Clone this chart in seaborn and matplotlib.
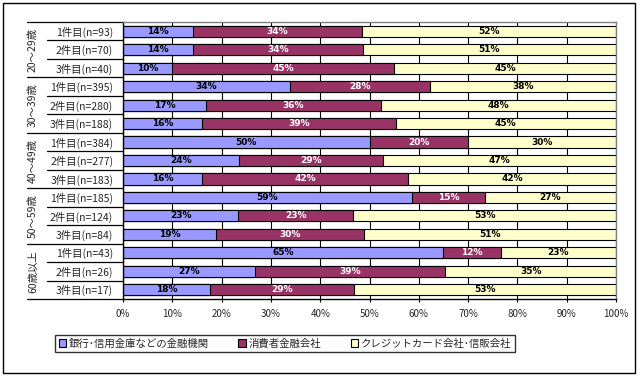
import pandas as pd
import matplotlib.pyplot as plt
import matplotlib.transforms as mtransforms
from matplotlib.patches import Patch, Rectangle
import seaborn as sns

# ==========================================
# DATA
# ==========================================
groups = ["20～29歳", "30～39歳", "40～49歳", "50～59歳", "60歳以上"]
rows = [
    "1件目(n=93)", "2件目(n=70)", "3件目(n=40)",
    "1件目(n=395)", "2件目(n=280)", "3件目(n=188)",
    "1件目(n=384)", "2件目(n=277)", "3件目(n=183)",
    "1件目(n=185)", "2件目(n=124)", "3件目(n=84)",
    "1件目(n=43)", "2件目(n=26)", "3件目(n=17)",
]
bank = [14.1, 14.3, 10.0, 33.9, 16.8, 16.1, 50.0, 23.6, 16.0, 58.6, 23.4, 18.9, 65.0, 26.8, 17.7]
consumer = [34.3, 34.3, 45.0, 28.4, 35.6, 39.2, 20.0, 29.1, 41.9, 14.8, 23.3, 29.9, 11.6, 38.6, 29.2]
credit = [51.6, 51.4, 45.0, 37.7, 47.6, 44.7, 30.0, 47.3, 42.1, 26.6, 53.3, 51.2, 23.4, 34.6, 53.1]
series = ["銀行･信用金庫などの金融機関", "消費者金融会社", "クレジットカード会社･信販会社"]
colors = ["#9999FF", "#993366", "#FFFFCC"]
label_colors = ["black", "white", "black"]

df = pd.DataFrame({"row": rows, "bank": bank, "consumer": consumer, "credit": credit})
df["c1"] = df["bank"]
df["c2"] = df["bank"] + df["consumer"]
df["c3"] = df["c2"] + df["credit"]

# ==========================================
# STYLE
# ==========================================
sns.set_style("white")
plt.rcParams["font.family"] = ["Noto Sans CJK JP", "DejaVu Sans"]

fig = plt.figure(figsize=(6.4, 3.8), dpi=100)
ax = fig.add_axes([123 / 640, 1 - 299 / 380, 493 / 640, 277 / 380])

# stacked bars: draw cumulative totals back to front
for col, c in zip(["c3", "c2", "c1"], colors[::-1]):
    sns.barplot(data=df, x=col, y="row", orient="h", color=c, saturation=1,
                edgecolor="black", linewidth=0.8, width=0.6, ax=ax)

# segment labels
for i in range(len(rows)):
    left = 0
    for val, tc in zip([bank[i], consumer[i], credit[i]], label_colors):
        ax.text(left + val / 2, i, f"{val:.0f}%", ha="center", va="center",
                color=tc, fontsize=6.5, fontweight="bold", family="DejaVu Sans")
        left += val

ax.set_xlim(0, 100)
ax.set_ylim(len(rows) - 0.5, -0.5)
ax.set_xticks(range(0, 101, 10))
ax.set_xticklabels([f"{v}%" for v in range(0, 101, 10)])
ax.xaxis.grid(True, color="black", lw=0.8)
ax.yaxis.grid(False)
ax.set_axisbelow(True)
ax.set_xlabel("")
ax.set_ylabel("")
ax.tick_params(axis="x", bottom=True, length=2, width=0.8, color="black", pad=5, labelsize=7)
ax.tick_params(axis="y", left=False, length=0, pad=7, labelsize=7.5)

for s in ["left", "bottom"]:
    ax.spines[s].set_color("black")
    ax.spines[s].set_linewidth(1)
for s in ["top", "right"]:
    ax.spines[s].set_color("#808080")
    ax.spines[s].set_linewidth(1)

# category separators and group labels
trans = mtransforms.blended_transform_factory(ax.transAxes, ax.transData)
for i in range(len(rows) + 1):
    x0 = -0.195 if i % 3 == 0 else -0.154
    ax.plot([x0, 0], [i - 0.5, i - 0.5], transform=trans, color="black",
            lw=0.9, clip_on=False)
for g, name in enumerate(groups):
    ax.text(-0.1826, 3 * g + 1, name, rotation=90, ha="center", va="center",
            transform=trans, fontsize=7.5)

# legend
handles = [Patch(facecolor=c, edgecolor="black", linewidth=0.8) for c in colors]
leg = fig.legend(handles, series, loc="center", bbox_to_anchor=(285 / 640, 1 - 343.5 / 380),
                 ncol=3, frameon=True, fancybox=False, edgecolor="black", fontsize=7.5,
                 handlelength=0.7, handleheight=0.7, handletextpad=0.3,
                 columnspacing=2.8, borderpad=0.35)
leg.get_frame().set_linewidth(1)

# outer chart border
fig.add_artist(Rectangle((3 / 640, 1 - 373 / 380), 632 / 640, 370 / 380,
                         transform=fig.transFigure, fill=False, edgecolor="black", lw=1))

fig.savefig("out.png", dpi=100)
